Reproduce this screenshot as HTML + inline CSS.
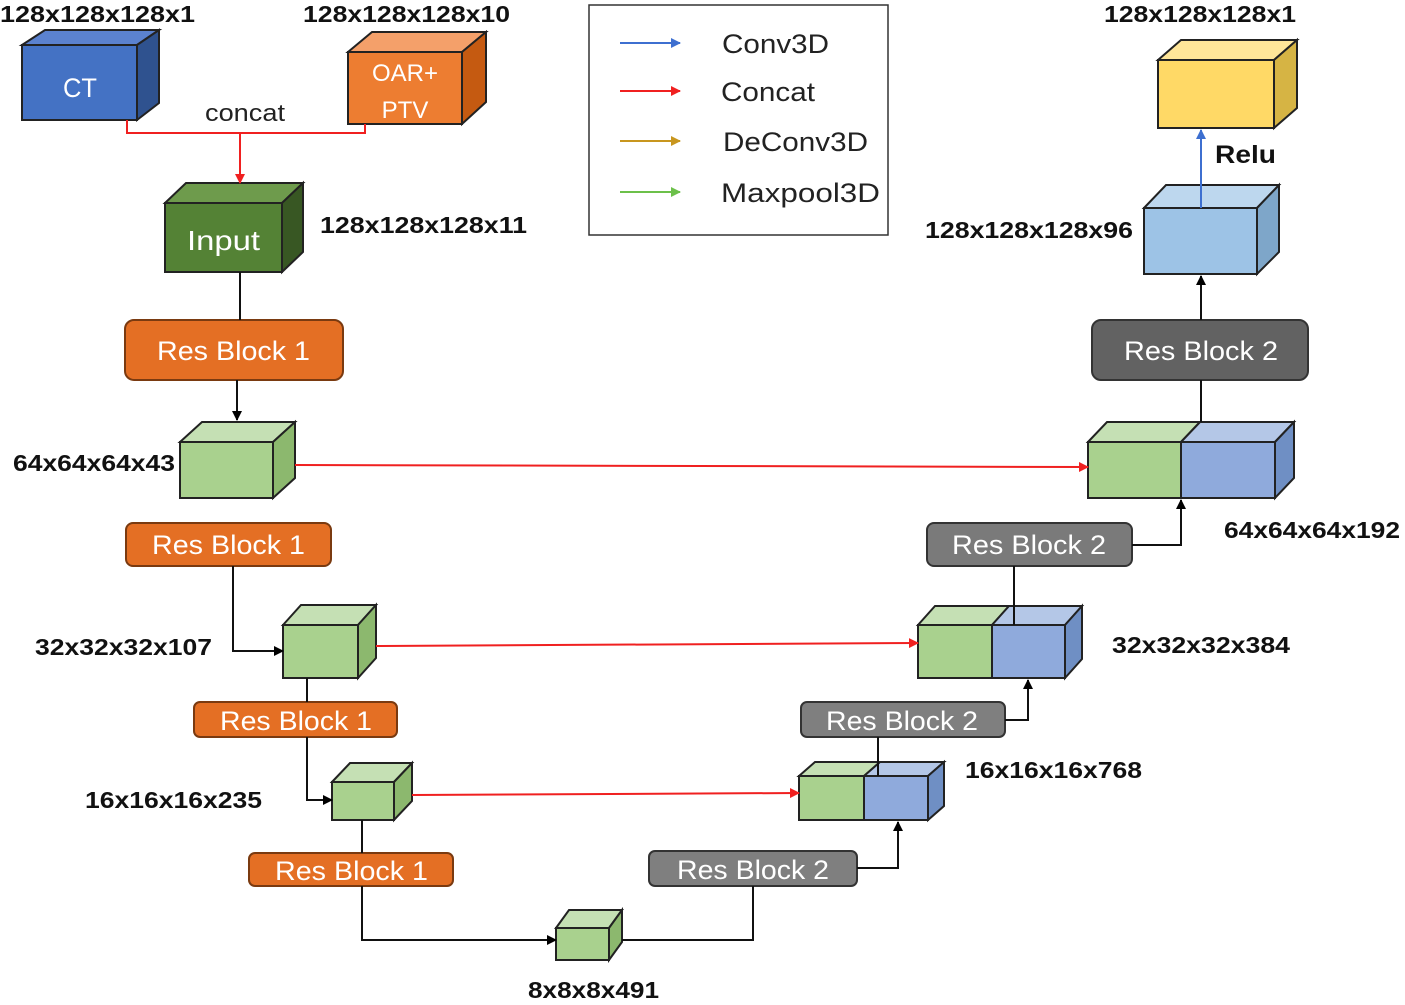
<!DOCTYPE html>
<html><head><meta charset="utf-8"><style>
html,body{margin:0;padding:0;background:#fff;}
svg{display:block;}
text{font-family:"Liberation Sans",sans-serif;}
.b{font-weight:bold;font-size:23px;fill:#111;}
.rb{font-size:27px;fill:#fff;}
.lg{font-size:27px;fill:#222;}
</style></head><body>
<svg width="1405" height="1005" viewBox="0 0 1405 1005" xmlns="http://www.w3.org/2000/svg">
<defs>
<marker id="ak" markerWidth="10" markerHeight="10" refX="9" refY="5" orient="auto" markerUnits="userSpaceOnUse"><path d="M0,0 L10,5 L0,10 z" fill="#000"/></marker>
<marker id="ar" markerWidth="10" markerHeight="10" refX="9" refY="5" orient="auto" markerUnits="userSpaceOnUse"><path d="M0,0 L10,5 L0,10 z" fill="#f02020"/></marker>
<marker id="ab" markerWidth="10" markerHeight="10" refX="9" refY="5" orient="auto" markerUnits="userSpaceOnUse"><path d="M0,0 L10,5 L0,10 z" fill="#3d6fd0"/></marker>
<marker id="ao" markerWidth="10" markerHeight="10" refX="9" refY="5" orient="auto" markerUnits="userSpaceOnUse"><path d="M0,0 L10,5 L0,10 z" fill="#c8961e"/></marker>
<marker id="ag" markerWidth="10" markerHeight="10" refX="9" refY="5" orient="auto" markerUnits="userSpaceOnUse"><path d="M0,0 L10,5 L0,10 z" fill="#6cc04a"/></marker>
</defs>
<g stroke="#222" stroke-width="2">
<polygon points="22,45 45,30 159,30 137,45" fill="#5b82cf"/>
<polygon points="137,45 159,30 159,103 137,120" fill="#2f528f"/>
<rect x="22" y="45" width="115" height="75" fill="#4472c4"/>
<polygon points="348,52 372,32 486,32 462,52" fill="#f4a06a"/>
<polygon points="462,52 486,32 486,102 462,124" fill="#c55a11"/>
<rect x="348" y="52" width="114" height="72" fill="#ed7d31"/>
<polygon points="165,203 186,183 303,183 282,203" fill="#6e9b4c"/>
<polygon points="282,203 303,183 303,252 282,272" fill="#385723"/>
<rect x="165" y="203" width="117" height="69" fill="#548235"/>
<polygon points="180,442 202,422 295,422 273,442" fill="#c5e0b4"/>
<polygon points="273,442 295,422 295,478 273,498" fill="#8cb86e"/>
<rect x="180" y="442" width="93" height="56" fill="#a9d18e"/>
<polygon points="283,625 301,605 376,605 358,625" fill="#c5e0b4"/>
<polygon points="358,625 376,605 376,658 358,678" fill="#8cb86e"/>
<rect x="283" y="625" width="75" height="53" fill="#a9d18e"/>
<polygon points="332,782 350,763 412,763 394,782" fill="#c5e0b4"/>
<polygon points="394,782 412,763 412,801 394,820" fill="#8cb86e"/>
<rect x="332" y="782" width="62" height="38" fill="#a9d18e"/>
<polygon points="556,928 569,910 622,910 609,928" fill="#c5e0b4"/>
<polygon points="609,928 622,910 622,942 609,960" fill="#8cb86e"/>
<rect x="556" y="928" width="53" height="32" fill="#a9d18e"/>
<polygon points="799,776 815,762 880,762 864,776" fill="#c5e0b4"/>
<polygon points="864,776 880,762 944,762 928,776" fill="#b4c7e7"/>
<polygon points="928,776 944,762 944,806 928,820" fill="#6f8fc4"/>
<rect x="799" y="776" width="65" height="44" fill="#a9d18e"/>
<rect x="864" y="776" width="64" height="44" fill="#8faadc"/>
<polygon points="918,625 935,606 1009,606 992,625" fill="#c5e0b4"/>
<polygon points="992,625 1009,606 1082,606 1065,625" fill="#b4c7e7"/>
<polygon points="1065,625 1082,606 1082,659 1065,678" fill="#6f8fc4"/>
<rect x="918" y="625" width="74" height="53" fill="#a9d18e"/>
<rect x="992" y="625" width="73" height="53" fill="#8faadc"/>
<polygon points="1088,442 1107,422 1200,422 1181,442" fill="#c5e0b4"/>
<polygon points="1181,442 1200,422 1294,422 1275,442" fill="#b4c7e7"/>
<polygon points="1275,442 1294,422 1294,478 1275,498" fill="#6f8fc4"/>
<rect x="1088" y="442" width="93" height="56" fill="#a9d18e"/>
<rect x="1181" y="442" width="94" height="56" fill="#8faadc"/>
<polygon points="1144,208 1166,185 1279,185 1257,208" fill="#bdd7ee"/>
<polygon points="1257,208 1279,185 1279,252 1257,274" fill="#7ea6c9"/>
<rect x="1144" y="208" width="113" height="66" fill="#9dc3e6"/>
<polygon points="1158,60 1181,40 1297,40 1274,60" fill="#ffe699"/>
<polygon points="1274,60 1297,40 1297,108 1274,128" fill="#d6b444"/>
<rect x="1158" y="60" width="116" height="68" fill="#ffd966"/>
</g>
<g stroke="#7a3a10" stroke-width="2" fill="#e46f24">
<rect x="125" y="320" width="218" height="60" rx="9"/>
<rect x="126" y="523" width="205" height="43" rx="7"/>
<rect x="194" y="702" width="203" height="35" rx="6"/>
<rect x="249" y="853" width="204" height="33" rx="6"/>
</g>
<g stroke="#333" stroke-width="2">
<rect x="649" y="851" width="208" height="35" rx="6" fill="#7f7f7f"/>
<rect x="801" y="702" width="204" height="35" rx="6" fill="#7f7f7f"/>
<rect x="927" y="523" width="205" height="43" rx="7" fill="#7a7a7a"/>
<rect x="1092" y="320" width="216" height="60" rx="9" fill="#626262"/>
</g>
<g fill="none" stroke="#111" stroke-width="2">
<line x1="240" y1="272" x2="240" y2="320"/>
<line x1="237" y1="380" x2="237" y2="420" marker-end="url(#ak)"/>
<polyline points="233,566 233,651 283,651" marker-end="url(#ak)"/>
<line x1="307" y1="678" x2="307" y2="702"/>
<polyline points="307,737 307,800 332,800" marker-end="url(#ak)"/>
<line x1="362" y1="820" x2="362" y2="853"/>
<polyline points="362,886 362,940 556,940" marker-end="url(#ak)"/>
<polyline points="622,940 753,940 753,886"/>
<polyline points="857,868 898,868 898,822" marker-end="url(#ak)"/>
<line x1="878" y1="776" x2="878" y2="737"/>
<polyline points="1005,720 1028,720 1028,680" marker-end="url(#ak)"/>
<line x1="1014" y1="625" x2="1014" y2="566"/>
<polyline points="1132,545 1181,545 1181,500" marker-end="url(#ak)"/>
<line x1="1201" y1="422" x2="1201" y2="380"/>
<line x1="1201" y1="320" x2="1201" y2="276" marker-end="url(#ak)"/>
</g>
<line x1="1201" y1="208" x2="1201" y2="130" stroke="#3d6fd0" stroke-width="2" marker-end="url(#ab)"/>
<g fill="none" stroke="#f02020" stroke-width="2">
<polyline points="127,120 127,133 365,133 365,124"/>
<line x1="240" y1="133" x2="240" y2="183" marker-end="url(#ar)"/>
<line x1="295" y1="465" x2="1088" y2="467" marker-end="url(#ar)"/>
<line x1="376" y1="646" x2="918" y2="643" marker-end="url(#ar)"/>
<line x1="412" y1="795" x2="799" y2="793" marker-end="url(#ar)"/>
</g>
<rect x="589" y="5" width="299" height="230" fill="#fff" stroke="#333" stroke-width="1.5"/>
<line x1="620" y1="43" x2="680" y2="43" stroke="#3d6fd0" stroke-width="2" marker-end="url(#ab)"/>
<line x1="620" y1="91" x2="680" y2="91" stroke="#f02020" stroke-width="2" marker-end="url(#ar)"/>
<line x1="620" y1="141" x2="680" y2="141" stroke="#c8961e" stroke-width="2" marker-end="url(#ao)"/>
<line x1="620" y1="192" x2="680" y2="192" stroke="#6cc04a" stroke-width="2" marker-end="url(#ag)"/>
<g lengthAdjust="spacingAndGlyphs">
<text class="lg" x="722" y="53" textLength="107" lengthAdjust="spacingAndGlyphs">Conv3D</text>
<text class="lg" x="721" y="101" textLength="94" lengthAdjust="spacingAndGlyphs">Concat</text>
<text class="lg" x="723" y="151" textLength="145" lengthAdjust="spacingAndGlyphs">DeConv3D</text>
<text class="lg" x="721" y="202" textLength="159" lengthAdjust="spacingAndGlyphs">Maxpool3D</text>
<text x="63" y="97" font-size="27" fill="#fff" textLength="34" lengthAdjust="spacingAndGlyphs">CT</text>
<text x="405" y="81" font-size="24" fill="#fff" text-anchor="middle">OAR+</text>
<text x="405" y="118" font-size="24" fill="#fff" text-anchor="middle">PTV</text>
<text x="205" y="121" font-size="24" fill="#222" textLength="80" lengthAdjust="spacingAndGlyphs">concat</text>
<text x="187" y="250" font-size="28" fill="#fff" textLength="73" lengthAdjust="spacingAndGlyphs">Input</text>
<text class="rb" x="157" y="360" textLength="153" lengthAdjust="spacingAndGlyphs">Res Block 1</text>
<text class="rb" x="152" y="554" textLength="153" lengthAdjust="spacingAndGlyphs">Res Block 1</text>
<text class="rb" x="220" y="730" textLength="152" lengthAdjust="spacingAndGlyphs">Res Block 1</text>
<text class="rb" x="275" y="880" textLength="153" lengthAdjust="spacingAndGlyphs">Res Block 1</text>
<text class="rb" x="677" y="879" textLength="152" lengthAdjust="spacingAndGlyphs">Res Block 2</text>
<text class="rb" x="826" y="730" textLength="152" lengthAdjust="spacingAndGlyphs">Res Block 2</text>
<text class="rb" x="952" y="554" textLength="154" lengthAdjust="spacingAndGlyphs">Res Block 2</text>
<text class="rb" x="1124" y="360" textLength="154" lengthAdjust="spacingAndGlyphs">Res Block 2</text>
<text class="b" x="0" y="22" textLength="195" lengthAdjust="spacingAndGlyphs">128x128x128x1</text>
<text class="b" x="303" y="22" textLength="207" lengthAdjust="spacingAndGlyphs">128x128x128x10</text>
<text class="b" x="1104" y="22" textLength="192" lengthAdjust="spacingAndGlyphs">128x128x128x1</text>
<text class="b" x="320" y="233" textLength="207" lengthAdjust="spacingAndGlyphs">128x128x128x11</text>
<text class="b" x="925" y="238" textLength="208" lengthAdjust="spacingAndGlyphs">128x128x128x96</text>
<text x="1215" y="163" font-size="25" font-weight="bold" fill="#111" textLength="61" lengthAdjust="spacingAndGlyphs">Relu</text>
<text class="b" x="13" y="471" textLength="162" lengthAdjust="spacingAndGlyphs">64x64x64x43</text>
<text class="b" x="1224" y="538" textLength="176" lengthAdjust="spacingAndGlyphs">64x64x64x192</text>
<text class="b" x="35" y="655" textLength="177" lengthAdjust="spacingAndGlyphs">32x32x32x107</text>
<text class="b" x="1112" y="653" textLength="178" lengthAdjust="spacingAndGlyphs">32x32x32x384</text>
<text class="b" x="85" y="808" textLength="177" lengthAdjust="spacingAndGlyphs">16x16x16x235</text>
<text class="b" x="965" y="778" textLength="177" lengthAdjust="spacingAndGlyphs">16x16x16x768</text>
<text class="b" x="528" y="998" textLength="131" lengthAdjust="spacingAndGlyphs">8x8x8x491</text>
</g>
</svg>
</body></html>
